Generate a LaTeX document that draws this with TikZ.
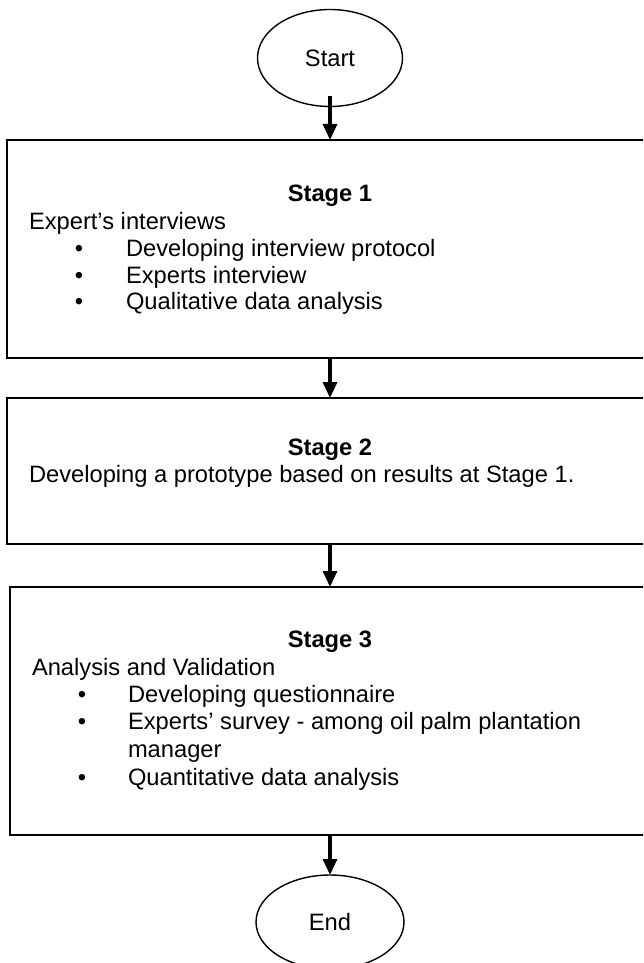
\documentclass[tikz,border=0pt]{standalone}
\usepackage{fontspec}
\setmainfont{Liberation Sans}
\usetikzlibrary{arrows.meta,shapes.geometric}
\begin{document}
\begin{tikzpicture}[x=1pt,y=-1pt,
  every node/.style={inner sep=0pt,outer sep=0pt},
  txt/.style={anchor=base west,font=\fontsize{23.7}{26}\selectfont},
  ttl/.style={anchor=base,font=\fontsize{23.7}{26}\selectfont\bfseries},
  bul/.style={anchor=base,font=\fontsize{23.7}{26}\selectfont},
  stagebox/.style={draw,line width=1.8pt,rectangle},
  term/.style={draw,line width=1.4pt,ellipse},
  arr/.style={line width=3.2pt,-{Triangle[width=14pt,length=16pt]}}]
\clip (0,0) rectangle (643,963);
\fill[white] (0,0) rectangle (643,963);
% terminals
\node[term,minimum width=145pt,minimum height=97pt] (start) at (330,58) {};
\node[font=\fontsize{23.7}{26}\selectfont] (starttxt) at (330,58) {Start};
\node[term,minimum width=148pt,minimum height=94pt] (end) at (330,922) {};
\node[font=\fontsize{23.7}{26}\selectfont] (endtxt) at (330,922) {End};
% boxes
\node[stagebox,minimum width=653pt,minimum height=218pt] (b1) at (333.5,249) {};
\node[stagebox,minimum width=653pt,minimum height=146pt] (b2) at (333.5,471) {};
\node[stagebox,minimum width=650pt,minimum height=248pt] (b3) at (335,711) {};
% stage 1 text
\node[ttl] (t1) at (330,201) {Stage 1};
\node[txt] (l11) at (29,229) {Expert’s interviews};
\node[bul] (d11) at (79,256) {•};
\node[txt] (l12) at (126,256) {Developing interview protocol};
\node[bul] (d12) at (79,283) {•};
\node[txt] (l13) at (126,283) {Experts interview};
\node[bul] (d13) at (79,309) {•};
\node[txt] (l14) at (126,309) {Qualitative data analysis};
% stage 2 text
\node[ttl] (t2) at (330,455) {Stage 2};
\node[txt] (l21) at (29,482) {Developing a prototype based on results at Stage 1.};
% stage 3 text
\node[ttl] (t3) at (330,647) {Stage 3};
\node[txt] (l31) at (32,675) {Analysis and Validation};
\node[bul] (d31) at (82,702) {•};
\node[txt] (l32) at (128,702) {Developing questionnaire};
\node[bul] (d32) at (82,729) {•};
\node[txt] (l33) at (128,729) {Experts’ survey - among oil palm plantation};
\node[txt] (l34) at (128,757) {manager};
\node[bul] (d34) at (82,785) {•};
\node[txt] (l35) at (128,785) {Quantitative data analysis};
% arrows
\draw[arr] ([yshift=10pt]start.south) -- (b1.north -| start.south);
\draw[arr] (b1.south -| start.south) -- (b2.north -| start.south);
\draw[arr] (b2.south -| start.south) -- (b3.north -| start.south);
\draw[arr] (b3.south -| start.south) -- (end.north);
\end{tikzpicture}
\end{document}
